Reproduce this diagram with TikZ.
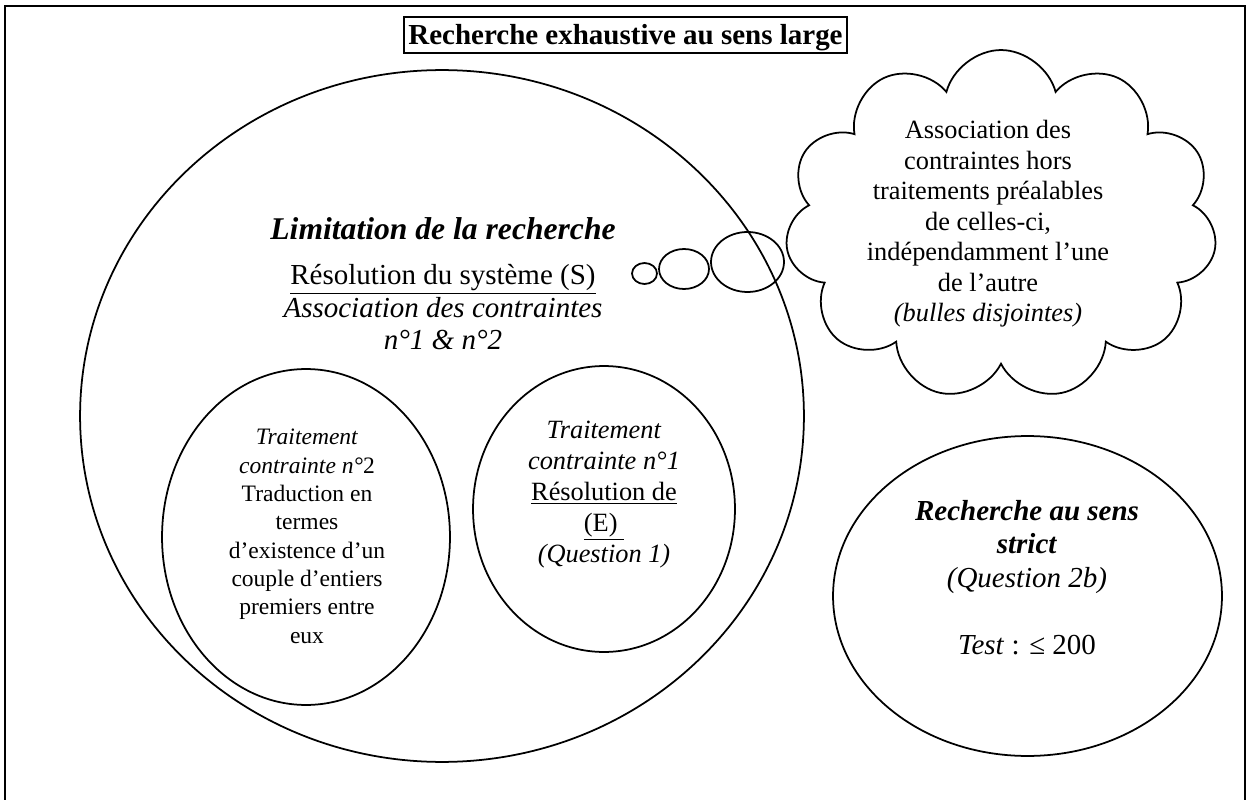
\documentclass[tikz,border=0pt]{standalone}
\usepackage{fontspec}
\setmainfont{Liberation Serif}
\usetikzlibrary{shapes.geometric,shapes.symbols}
\tikzset{
  bubble/.style={draw, ellipse, line width=1pt, inner sep=0pt},
  txt/.style={align=center, inner sep=0pt, anchor=base},
}
\begin{document}
\begin{tikzpicture}[x=0.02cm, y=-0.02cm]
  \useasboundingbox (0,0) rectangle (1247,800);
  \draw [line width=1.1pt] (5,6) rectangle (1245,830);
  \node [draw, line width=1pt, anchor=base, inner xsep=0pt, inner ysep=0pt,
         minimum width=8.86cm, text height=0.56cm, text depth=0.16cm,
         font=\fontsize{16.5}{18}\selectfont\bfseries] (title) at (625.5,45)
        {Recherche exhaustive au sens large};
  % the big bubble and what it holds
  \node [bubble, minimum width=14.48cm, minimum height=13.84cm] (limit) at (442,416) {};
  \node [bubble, minimum width=5.76cm, minimum height=6.72cm] (trait2) at (306,537) {};
  \node [bubble, minimum width=5.24cm, minimum height=5.72cm] (trait1) at (604,509) {};
  \node [bubble, minimum width=7.78cm, minimum height=6.4cm] (strict) at (1027.5,596) {};
  % thought bubbles and cloud
  \node [bubble, minimum width=0.5cm, minimum height=0.42cm] (bub1) at (644.5,273.5) {};
  \node [bubble, minimum width=1cm, minimum height=0.8cm] (bub2) at (684,269) {};
  \node [bubble, minimum width=1.46cm, minimum height=1.2cm] (bub3) at (747.5,262) {};
  \node [draw, cloud, cloud puffs=11, line width=1pt, inner sep=0pt,
         minimum width=8.64cm, minimum height=7cm] (cloud) at (1001,225) {};
  % texts (a block's base is its last line)
  \node [txt, font=\fontsize{18}{20}\selectfont\bfseries\itshape] (limhead) at (443,240)
        {Limitation de la recherche};
  \node [txt, font=\fontsize{16.5}{18.5}\selectfont] (limtext) at (443,350)
        {\underline{Résolution du système (S)}\\ \textit{Association des contraintes}\\ \textit{n°1 \& n°2}};
  \node [txt, font=\fontsize{13.4}{16.1}\selectfont] (trait2text) at (307,643)
        {\textit{Traitement}\\ \textit{contrainte n°}2\\ Traduction en\\ termes\\
         d’existence d’un\\ couple d’entiers\\ premiers entre\\ eux};
  \node [txt, font=\fontsize{15}{17.6}\selectfont] (trait1text) at (604,562)
        {\textit{Traitement}\\ \textit{contrainte n°1}\\ \underline{Résolution de}\\
         \underline{(E)\ }\\ \textit{(Question 1)}};
  \node [txt, font=\fontsize{16.5}{19}\selectfont] (stricttext) at (1027,654)
        {\textbf{\textit{Recherche au sens}}\\ \textbf{\textit{strict}}\\ \textit{(Question 2b)}\\[19pt]
         \textit{Test} : ≤ 200};
  \node [txt, font=\fontsize{15}{17.4}\selectfont] (cloudtext) at (988,322)
        {Association des\\ contraintes hors\\ traitements préalables\\ de celles-ci,\\
         indépendamment l’une\\ de l’autre\\ \textit{(bulles disjointes)}};
\end{tikzpicture}
\end{document}
